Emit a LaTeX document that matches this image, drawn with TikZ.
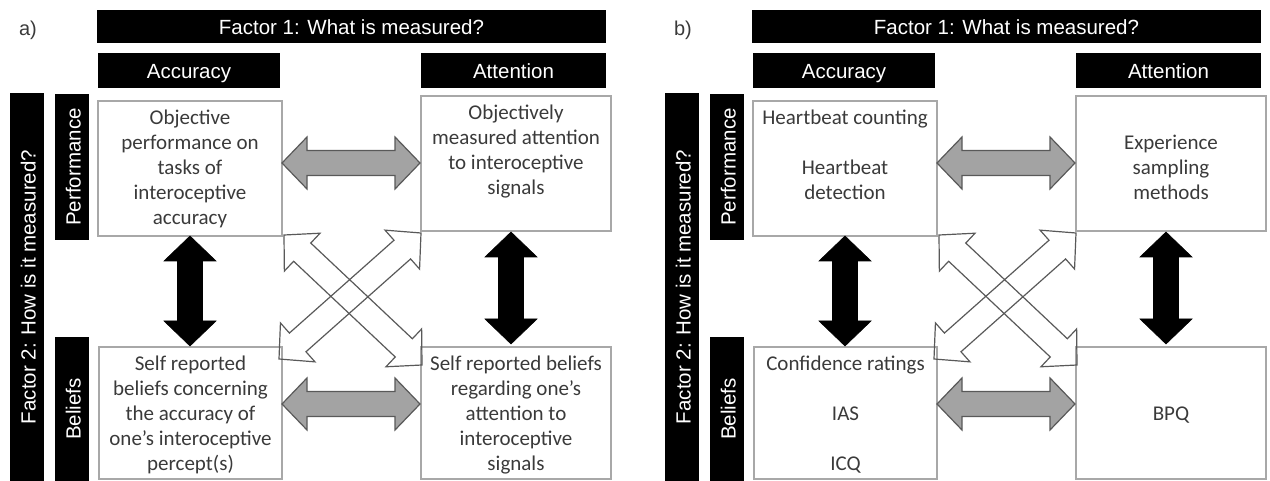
\documentclass[tikz,border=0pt]{standalone}
\usepackage{fontspec}
\setmainfont{Carlito}
\newfontfamily\hdrfont{Liberation Sans}
\usetikzlibrary{calc}
\definecolor{boxline}{HTML}{A8A8A8}
\definecolor{txt}{HTML}{3A3A3A}
\definecolor{arrgray}{HTML}{A3A3A3}
\definecolor{arredge}{HTML}{595959}
\newcommand\blockarr[3]{%
 \draw[#1] (#2) -- ($($(#2)!25pt!(#3)$)!26pt!90:(#3)$) -- ($($(#2)!25pt!(#3)$)!12.5pt!90:(#3)$)
  -- ($($(#3)!25pt!(#2)$)!12.5pt!-90:(#2)$) -- ($($(#3)!25pt!(#2)$)!26pt!-90:(#2)$) -- (#3)
  -- ($($(#3)!25pt!(#2)$)!26pt!90:(#2)$) -- ($($(#3)!25pt!(#2)$)!12.5pt!90:(#2)$)
  -- ($($(#2)!25pt!(#3)$)!12.5pt!-90:(#3)$) -- ($($(#2)!25pt!(#3)$)!26pt!-90:(#3)$) -- cycle;}
\tikzset{
 hbar/.style={fill=black, text=white, inner sep=0pt, text height=18pt, text depth=1pt,
   font=\hdrfont\fontsize{20.5}{24}\selectfont},
 plainlabel/.style={text=txt, inner sep=0pt, font=\hdrfont\fontsize{20}{24}\selectfont},
 ibox/.style={draw=boxline, line width=1.3pt, inner sep=0pt},
 itext/.style={text=txt, font=\fontsize{21}{25}\selectfont, align=center, inner sep=0pt},
 garr/.style={fill=arrgray, draw=arredge, line width=1.2pt, line join=miter},
 barr/.style={fill=black, draw=black, line width=0.6pt, line join=miter},
 warr/.style={draw=arredge, line width=1.2pt, line join=miter},
}
\begin{document}
\begin{tikzpicture}[x=1pt,y=-1pt]
\useasboundingbox (0,0) rectangle (1270,481);
% ---------- panel a ----------
\node[plainlabel] (la) at (28,30) {a)};
\node[hbar, minimum width=509pt, minimum height=33pt] (fa1) at (351.5,26.5) {Factor 1: What is measured?};
\node[hbar, minimum width=182pt, minimum height=35pt] (acca) at (189,70.5) {Accuracy};
\node[hbar, minimum width=185pt, minimum height=35pt] (atta) at (513.5,70.5) {Attention};
\node[hbar, rotate=90, minimum width=388pt, minimum height=34pt] (fa2) at (27,287) {Factor 2: How is it measured?};
\node[hbar, rotate=90, minimum width=146pt, minimum height=34pt] (perfa) at (72,167) {Performance};
\node[hbar, rotate=90, minimum width=144pt, minimum height=34pt] (belia) at (72,409) {Beliefs};
\node[ibox, minimum width=184pt, minimum height=135pt] (tla) at (190,168.5) {};
\node[ibox, minimum width=190pt, minimum height=135pt] (tra) at (516,163.5) {};
\node[ibox, minimum width=183pt, minimum height=132pt] (bla) at (190.5,413) {};
\node[ibox, minimum width=190pt, minimum height=132pt] (bra) at (516,413) {};
\node[itext, anchor=north] (tlat) at (190,110) {Objective\\performance on\\tasks of\\interoceptive\\accuracy};
\node[itext, anchor=north] (trat) at (516,105) {Objectively\\measured attention\\to interoceptive\\signals};
\node[itext, anchor=north] (blat) at (190.5,356) {Self reported\\beliefs concerning\\the accuracy of\\one’s interoceptive\\percept(s)};
\node[itext, anchor=north] (brat) at (516,356) {Self reported beliefs\\regarding one’s\\attention to\\interoceptive\\signals};
\coordinate (ga1) at (282,163); \coordinate (ga2) at (420,163);
\coordinate (gb1) at (282,404); \coordinate (gb2) at (420,404);
\coordinate (ka1) at (190,236); \coordinate (ka2) at (190,346);
\coordinate (kb1) at (511,232); \coordinate (kb2) at (511,344);
\coordinate (wa1) at (284,235); \coordinate (wa2) at (422,365);
\coordinate (wb1) at (421,233); \coordinate (wb2) at (279,359);
\blockarr{garr}{ga1}{ga2}
\blockarr{garr}{gb1}{gb2}
\blockarr{barr}{ka1}{ka2}
\blockarr{barr}{kb1}{kb2}
\blockarr{warr}{wa1}{wa2}
\blockarr{warr}{wb1}{wb2}
% ---------- panel b ----------
\node[plainlabel] (lb) at (683,30) {b)};
\node[hbar, minimum width=509pt, minimum height=33pt] (fb1) at (1006.5,26.5) {Factor 1: What is measured?};
\node[hbar, minimum width=182pt, minimum height=35pt] (accb) at (844,70.5) {Accuracy};
\node[hbar, minimum width=185pt, minimum height=35pt] (attb) at (1168.5,70.5) {Attention};
\node[hbar, rotate=90, minimum width=388pt, minimum height=34pt] (fb2) at (682,287) {Factor 2: How is it measured?};
\node[hbar, rotate=90, minimum width=146pt, minimum height=34pt] (perfb) at (727,167) {Performance};
\node[hbar, rotate=90, minimum width=144pt, minimum height=34pt] (belib) at (727,409) {Beliefs};
\node[ibox, minimum width=184pt, minimum height=135pt] (tlb) at (845,168.5) {};
\node[ibox, minimum width=190pt, minimum height=135pt] (trb) at (1171,163.5) {};
\node[ibox, minimum width=183pt, minimum height=132pt] (blb) at (845.5,413) {};
\node[ibox, minimum width=190pt, minimum height=132pt] (brb) at (1171,413) {};
\node[itext, anchor=north] (tlbt) at (845,110) {Heartbeat counting\\[25pt]Heartbeat\\detection};
\node[itext] (trbt) at (1171,167) {Experience\\sampling\\methods};
\node[itext, anchor=north] (blbt) at (845.5,356) {Confidence ratings\\[25pt]IAS\\[25pt]ICQ};
\node[itext] (brbt) at (1171,415) {BPQ};
\coordinate (gc1) at (937,163); \coordinate (gc2) at (1075,163);
\coordinate (gd1) at (937,404); \coordinate (gd2) at (1075,404);
\coordinate (kc1) at (845,236); \coordinate (kc2) at (845,346);
\coordinate (kd1) at (1166,232); \coordinate (kd2) at (1166,344);
\coordinate (wc1) at (939,235); \coordinate (wc2) at (1077,365);
\coordinate (wd1) at (1076,233); \coordinate (wd2) at (934,359);
\blockarr{garr}{gc1}{gc2}
\blockarr{garr}{gd1}{gd2}
\blockarr{barr}{kc1}{kc2}
\blockarr{barr}{kd1}{kd2}
\blockarr{warr}{wc1}{wc2}
\blockarr{warr}{wd1}{wd2}
\end{tikzpicture}
\end{document}
